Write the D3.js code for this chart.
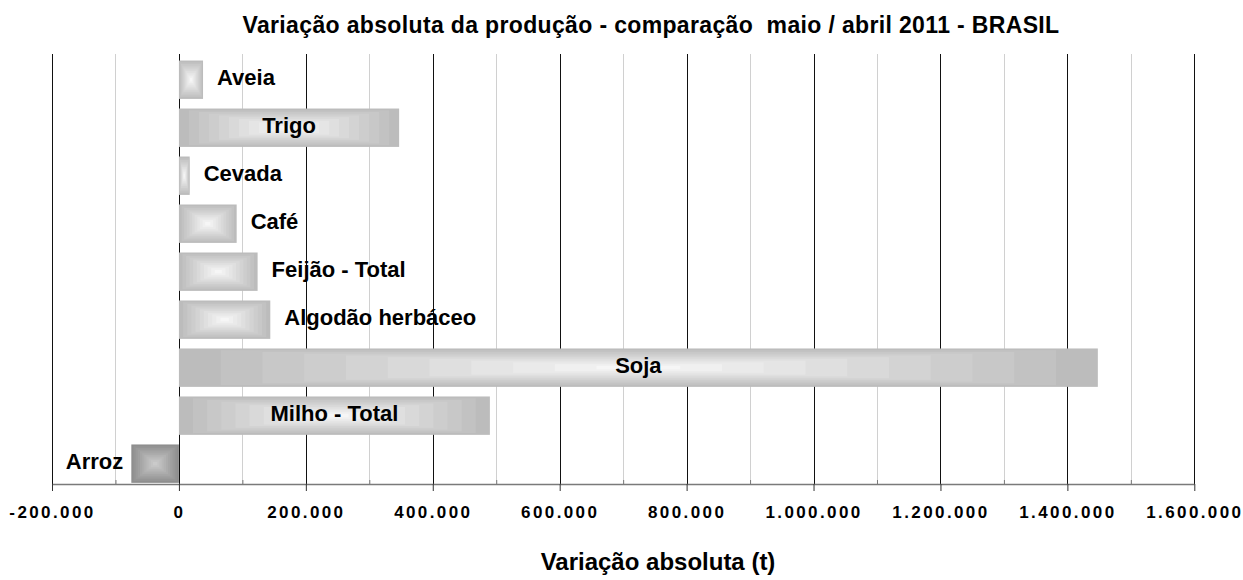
<!DOCTYPE html>
<html>
<head>
<meta charset="utf-8">
<script src="https://cdn.jsdelivr.net/npm/d3@7"></script>
<style>
  body { margin: 0; background: #fff; }
  text { font-family: "Liberation Sans", Arial, sans-serif; font-weight: bold; fill: #000; }
</style>
</head>
<body>
<div id="chart"></div>
<script>
// values (t)
const categories = ["Aveia", "Trigo", "Cevada", "Café", "Feijão - Total", "Algodão herbáceo", "Soja", "Milho - Total", "Arroz"];
const variacao = [38000, 347000, 17000, 91000, 124000, 144000, 1448000, 490000, -75000];
const majorTicks = [-200000, 0, 200000, 400000, 600000, 800000, 1000000, 1200000, 1400000, 1600000];
const minorTicks = [-100000, 100000, 300000, 500000, 700000, 900000, 1100000, 1300000, 1500000];
const chartTitle = "Variação absoluta da produção - comparação  maio / abril 2011 - BRASIL";
const axisTitle = "Variação absoluta (t)";

function drawChart() {
    const width = 1243, height = 580;
    const plot = { left: 52, right: 1194.3, top: 54, bottom: 484 };

    const svg = d3.select("#chart")
        .append("svg")
        .attr("width", width)
        .attr("height", height);

    const x = d3.scaleLinear()
        .domain([-200000, 1600000])
        .range([plot.left, plot.right]);

    const y = d3.scaleBand()
        .domain(categories)
        .range([plot.top, plot.bottom])
        .paddingInner(0.2)
        .paddingOuter(0.08)
        .align(0.85);

    const br = d3.formatLocale({ decimal: ",", thousands: ".", grouping: [3], currency: ["R$", ""], minus: "-" });
    const fmt = br.format(",d");

    // minor gridlines
    svg.append("g").selectAll("line")
        .data(minorTicks)
        .enter()
        .append("line")
        .attr("x1", d => Math.round(x(d)) + 0.5)
        .attr("x2", d => Math.round(x(d)) + 0.5)
        .attr("y1", plot.top)
        .attr("y2", plot.bottom)
        .attr("stroke", "#d0d0d0")
        .attr("stroke-width", 1);

    // major gridlines
    svg.append("g").selectAll("line")
        .data(majorTicks)
        .enter()
        .append("line")
        .attr("x1", d => Math.round(x(d)) + 0.5)
        .attr("x2", d => Math.round(x(d)) + 0.5)
        .attr("y1", plot.top)
        .attr("y2", plot.bottom)
        .attr("stroke", "#111")
        .attr("stroke-width", 1);

    const rows = categories.map((c, i) => ({ cat: c, value: variacao[i] }));

    // bars: stepped "from center" gradient like the Excel fill
    const steps = 11;
    const bars = svg.append("g").selectAll("g")
        .data(rows)
        .enter()
        .append("g");

    bars.each(function (d) {
        const g = d3.select(this);
        const x0 = Math.min(x(0), x(d.value));
        const w = Math.abs(x(d.value) - x(0));
        const h = y.bandwidth();
        const edge = d.value < 0 ? "#8e8e8e" : "#bcbcbc";
        const center = d.value < 0 ? "#cacaca" : "#f6f6f6";
        const col = d3.interpolateRgb(edge, center);
        g.selectAll("rect")
            .data(d3.range(steps))
            .enter()
            .append("rect")
            .attr("x", i => x0 + i * w / (2 * steps))
            .attr("y", i => y(d.cat) + i * h / (2 * steps))
            .attr("width", i => w - i * w / steps)
            .attr("height", i => h - i * h / steps)
            .attr("fill", i => col(i / (steps - 1)));
    });

    // category labels: inside when they fit, otherwise just beyond the bar end
    bars.append("text")
        .attr("y", d => y(d.cat) + y.bandwidth() / 2)
        .attr("dy", "0.26em")
        .style("font-size", "22px")
        .text(d => d.cat)
        .each(function (d) {
            const t = d3.select(this);
            const tw = this.getComputedTextLength();
            const w = Math.abs(x(d.value) - x(0));
            if (tw + 30 < w) {
                t.attr("x", (x(0) + x(d.value)) / 2).attr("text-anchor", "middle");
            } else if (d.value < 0) {
                t.attr("x", x(d.value) - 8).attr("text-anchor", "end");
            } else {
                t.attr("x", x(d.value) + 14).attr("text-anchor", "start");
            }
        });

    // x axis
    const axis = svg.append("g")
        .attr("transform", `translate(0,${plot.bottom})`)
        .call(d3.axisBottom(x).tickValues(majorTicks).tickFormat(fmt).tickSize(7).tickSizeOuter(0));
    axis.select(".domain").attr("stroke", "#7a7a7a").attr("stroke-width", 1.5);
    axis.selectAll(".tick line").attr("stroke", "#333");
    axis.selectAll(".tick text")
        .attr("y", 34)
        .attr("dy", 0)
        .style("font-size", "17px")
        .style("letter-spacing", "2.4px")
        .style("font-family", "'Liberation Sans', Arial, sans-serif")
        .style("font-weight", "bold")
        .attr("fill", "#000");

    const minorAxis = svg.append("g")
        .attr("transform", `translate(0,${plot.bottom})`)
        .call(d3.axisBottom(x).tickValues(minorTicks).tickFormat("").tickSize(-4).tickSizeOuter(0));
    minorAxis.select(".domain").remove();
    minorAxis.selectAll(".tick line").attr("stroke", "#7a7a7a");

    // titles
    svg.append("text")
        .attr("x", 651)
        .attr("y", 33)
        .attr("text-anchor", "middle")
        .style("font-size", "23px")
        .style("letter-spacing", "0.35px")
        .style("white-space", "pre")
        .text(chartTitle);

    svg.append("text")
        .attr("x", 658)
        .attr("y", 570)
        .attr("text-anchor", "middle")
        .style("font-size", "24px")
        .text(axisTitle);
}

drawChart();
</script>
</body>
</html>
